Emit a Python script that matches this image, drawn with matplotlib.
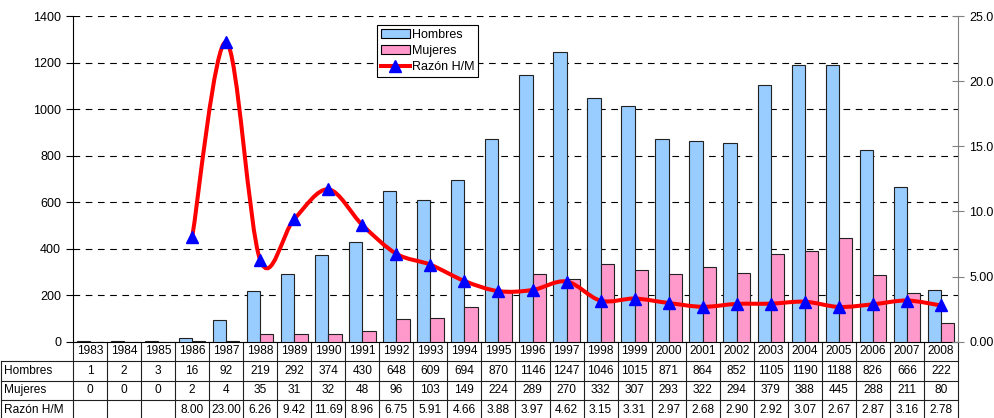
import numpy as np
import matplotlib
matplotlib.use("Agg")
import matplotlib.pyplot as plt
from matplotlib.path import Path
from matplotlib.patches import PathPatch, Patch
from matplotlib.lines import Line2D
import matplotlib.transforms as mtransforms

# data
years = list(range(1983, 2009))
hombres = [1, 2, 3, 16, 92, 219, 292, 374, 430, 648, 609, 694, 870, 1146,
           1247, 1046, 1015, 871, 864, 852, 1105, 1190, 1188, 826, 666, 222]
mujeres = [0, 0, 0, 2, 4, 35, 31, 32, 48, 96, 103, 149, 224, 289,
           270, 332, 307, 293, 322, 294, 379, 388, 445, 288, 211, 80]
razon = [None, None, None, 8.00, 23.00, 6.26, 9.42, 11.69, 8.96, 6.75, 5.91,
         4.66, 3.88, 3.97, 4.62, 3.15, 3.31, 2.97, 2.68, 2.90, 2.92, 3.07,
         2.67, 2.87, 3.16, 2.78]
row_labels = ["Hombres", "Mujeres", "Razón H/M"]
right_ticks = [0, 5, 10, 15, 20, 25]
right_labels = ["0.00", "5.00", "10.0", "15.0", "20.0", "25.0"]

plt.rcParams['font.family'] = ['Liberation Sans', 'DejaVu Sans']
plt.rcParams['font.size'] = 9

W, H = 995, 418
L, R, T, B = 73, 958, 16, 341.7
fig = plt.figure(figsize=(W / 100, H / 100), dpi=100)
ax = fig.add_axes([L / W, 1 - B / H, (R - L) / W, (B - T) / H])
ax2 = ax.twinx()

x = np.arange(len(years))
bw = 0.39
ax.bar(x - bw, hombres, width=bw, align='edge', color='#99CCFF',
       edgecolor='#222222', lw=0.8, zorder=3)
ax.bar(x, mujeres, width=bw, align='edge', color='#FF99CC',
       edgecolor='#222222', lw=0.8, zorder=3)

ax.set_xlim(-0.5, len(years) - 0.5)
ax.set_ylim(0, 1400)
ax.set_yticks(range(0, 1401, 200))
ax.set_xticks([])
ax.yaxis.grid(True, linestyle=(0, (6, 5)), color='black', lw=0.8, zorder=0)
ax.set_axisbelow(True)
ax.tick_params(axis='y', direction='out', length=5, pad=3.6, width=0.8)
for s in ['top', 'right']:
    ax.spines[s].set_visible(False)
ax.spines['left'].set_linewidth(0.8)
ax.spines['bottom'].set_linewidth(0.8)

# smoothed ratio line (bezier through points)
pts = [(xi, r) for xi, r in zip(x, razon) if r is not None]
pts = np.array(pts, dtype=float)
verts = [tuple(pts[0])]
codes = [Path.MOVETO]
n = len(pts)
for i in range(n - 1):
    p0 = pts[max(i - 1, 0)]
    p1 = pts[i]
    p2 = pts[i + 1]
    p3 = pts[min(i + 2, n - 1)]
    c1 = p1 + (p2 - p0) / 6
    c2 = p2 - (p3 - p1) / 6
    verts += [tuple(c1), tuple(c2), tuple(p2)]
    codes += [Path.CURVE4] * 3
ax2.add_patch(PathPatch(Path(verts, codes), fill=False, edgecolor='red',
                        lw=2.9, zorder=4, capstyle='round'))
ax2.plot(pts[:, 0], pts[:, 1], linestyle='none', marker='^', color='blue',
         markersize=8, zorder=5)

ax2.set_ylim(0, 25)
ax2.set_yticks(right_ticks)
ax2.set_yticklabels(right_labels)
ax2.tick_params(axis='y', direction='inout', length=8, pad=4.3,
                color='#808080', width=0.8)
for s in ['top', 'left', 'bottom']:
    ax2.spines[s].set_visible(False)
ax2.spines['right'].set_color('#808080')
ax2.spines['right'].set_linewidth(0.8)

handles = [Patch(facecolor='#99CCFF', edgecolor='black', lw=0.8),
           Patch(facecolor='#FF99CC', edgecolor='black', lw=0.8),
           Line2D([], [], color='red', lw=2.9, marker='^', markersize=8,
                  markerfacecolor='blue', markeredgecolor='blue')]
leg = ax2.legend(handles, ["Hombres", "Mujeres", "Razón H/M"],
                 loc='upper left', bbox_to_anchor=(377 / W, 1 - 25 / H),
                 bbox_transform=fig.transFigure, fancybox=False,
                 edgecolor='black', framealpha=1, borderpad=0.3,
                 handlelength=2.3, handletextpad=0.2, labelspacing=0.35,
                 borderaxespad=0)
leg.get_frame().set_linewidth(0.8)

# data table below the plot
def ya(ypx):
    return (B - ypx) / (B - T)

row_h = 19.5
row_tops = [B + k * row_h for k in range(5)]
tr_x = mtransforms.blended_transform_factory(ax.transData, ax.transAxes)
tr_f = mtransforms.blended_transform_factory(fig.transFigure, ax.transAxes)
lc = dict(color='#202020', lw=0.8, clip_on=False)

for i in range(len(years) + 1):
    ax.plot([i - 0.5, i - 0.5], [ya(row_tops[0]), ya(H + 5)],
            transform=tr_x, **lc)
for k in range(1, 5):
    ax.plot([1 / W, R / W], [ya(row_tops[k])] * 2, transform=tr_f, **lc)
ax.plot([1 / W, 1 / W], [ya(row_tops[1]), ya(H + 5)], transform=tr_f, **lc)

ts = 8.6
for i, yr in enumerate(years):
    yc = ya((row_tops[0] + row_tops[1]) / 2)
    ax.text(i, yc, str(yr), transform=tr_x, ha='center', va='center',
            fontsize=ts, clip_on=False)
    rows = [str(hombres[i]), str(mujeres[i]),
            "" if razon[i] is None else f"{razon[i]:.2f}"]
    for k, s in enumerate(rows):
        yc = ya((row_tops[k + 1] + row_tops[k + 2]) / 2)
        ax.text(i, yc, s, transform=tr_x, ha='center', va='center',
                fontsize=ts, clip_on=False)
for k, lab in enumerate(row_labels):
    yc = ya((row_tops[k + 1] + row_tops[k + 2]) / 2)
    ax.text(4 / W, yc, lab, transform=tr_f, ha='left', va='center',
            fontsize=ts, clip_on=False)

fig.savefig("out.png", dpi=100)
